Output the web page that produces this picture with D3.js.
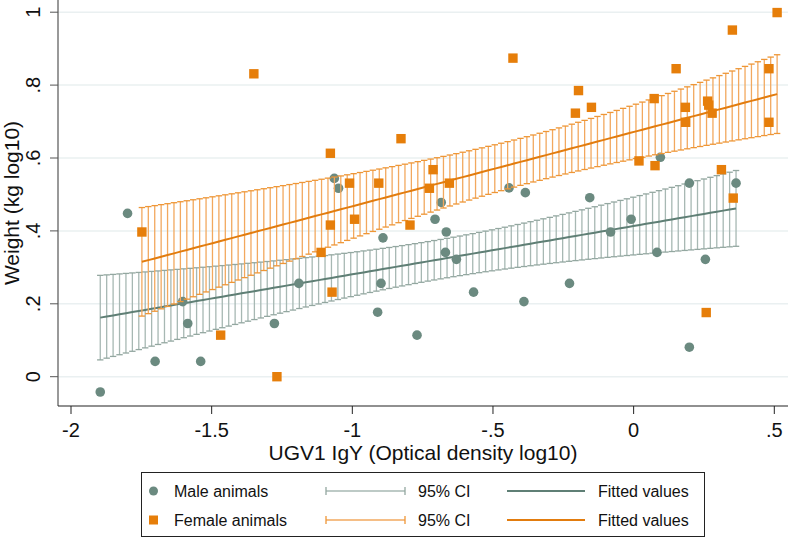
<!DOCTYPE html>
<html><head><meta charset="utf-8">
<script src="https://cdn.jsdelivr.net/npm/d3@7"></script>
<style>body{margin:0;background:#fff}svg{display:block;font-family:"Liberation Sans",Arial,sans-serif}</style>
</head><body><svg id="c" width="790" height="539"></svg>
<script>
const maleX = [-1.896,-1.799,-1.701,-1.603,-1.585,-1.539,-1.277,-1.190,-1.064,-1.049,-0.891,-0.898,-0.910,-0.770,-0.684,-0.706,-0.666,-0.669,-0.630,-0.569,-0.443,-0.385,-0.390,-0.156,-0.228,-0.082,-0.009,0.095,0.083,0.198,0.198,0.255,0.364];
const maleY = [-0.042,0.448,0.042,0.206,0.146,0.042,0.146,0.256,0.544,0.517,0.381,0.256,0.177,0.114,0.478,0.432,0.397,0.341,0.322,0.232,0.518,0.505,0.206,0.491,0.256,0.397,0.432,0.602,0.341,0.531,0.081,0.322,0.531];
const femaleX = [-1.748,-1.468,-1.268,-1.350,-1.078,-1.072,-1.111,-1.078,-0.992,-1.010,-0.906,-0.827,-0.795,-0.713,-0.726,-0.655,-0.429,-0.196,-0.207,-0.150,0.019,0.073,0.076,0.151,0.184,0.185,0.263,0.267,0.279,0.312,0.351,0.354,0.481,0.481,0.510,0.258];
const femaleY = [0.397,0.114,0.000,0.831,0.613,0.232,0.341,0.416,0.432,0.531,0.531,0.653,0.416,0.568,0.517,0.531,0.874,0.785,0.723,0.739,0.592,0.763,0.579,0.845,0.739,0.698,0.756,0.745,0.723,0.568,0.951,0.490,0.845,0.698,0.999,0.176];
const xTicks = [-2,-1.5,-1,-0.5,0,0.5];
const yTicks = [0,0.2,0.4,0.6,0.8,1];
const tCrit = {male:2.040, female:2.032};
const nFit = 100;

const svg = d3.select("#c");
const x = d3.scaleLinear().domain([-2,0.5]).range([71,774.3]);
const y = d3.scaleLinear().domain([0,1]).range([376.7,12.2]);
const L=58, R=788, T=0, B=406;
const fmt = v => String(v).replace("0.", ".");

const col = {
  male:{pt:"#6b8a80", ci:"#a7b8b3", cap:"#93a7a0", fit:"#5f7f75"},
  female:{pt:"#e67e0a", ci:"#f2a85e", cap:"#ee9636", fit:"#e27c0e"}
};

// gridlines
svg.append("g").selectAll("line").data(yTicks).join("line")
  .attr("x1",L).attr("x2",R).attr("y1",d=>y(d)).attr("y2",d=>y(d))
  .attr("stroke","#eaf0f1").attr("stroke-width",1.5);

function fit(xs, ys, t){
  const n=xs.length, mx=d3.mean(xs), my=d3.mean(ys);
  let sxx=0, sxy=0;
  for(let i=0;i<n;i++){sxx+=(xs[i]-mx)**2; sxy+=(xs[i]-mx)*(ys[i]-my);}
  const b=sxy/sxx, a=my-b*mx;
  let sse=0; for(let i=0;i<n;i++){sse+=(ys[i]-a-b*xs[i])**2;}
  const s=Math.sqrt(sse/(n-2));
  const [x0,x1]=d3.extent(xs);
  return d3.range(nFit).map(i=>{
    const xv=x0+(x1-x0)*i/(nFit-1);
    const yh=a+b*xv, se=s*Math.sqrt(1/n+(xv-mx)**2/sxx);
    return {x:xv, y:yh, lo:yh-t*se, hi:yh+t*se};
  });
}

function layer(xs, ys, key, shape){
  const c=col[key];
  const f=fit(xs,ys,tCrit[key]);
  const g=svg.append("g");
  g.selectAll("line.sp").data(f).join("line")
    .attr("x1",d=>x(d.x)).attr("x2",d=>x(d.x)).attr("y1",d=>y(d.lo)).attr("y2",d=>y(d.hi))
    .attr("stroke",c.ci).attr("stroke-width",1.3);
  ["lo","hi"].forEach(k=>{
    g.selectAll("line.c"+k).data(f).join("line")
      .attr("x1",d=>x(d.x)-3.2).attr("x2",d=>x(d.x)+3.2).attr("y1",d=>y(d[k])).attr("y2",d=>y(d[k]))
      .attr("stroke",c.cap).attr("stroke-width",1.3);
  });
  g.append("path").datum(f).attr("fill","none").attr("stroke",c.fit).attr("stroke-width",2)
    .attr("d",d3.line().x(d=>x(d.x)).y(d=>y(d.y)));
  const pts=xs.map((v,i)=>({x:v,y:ys[i]}));
  if(shape==="circle"){
    g.selectAll("circle").data(pts).join("circle").attr("cx",d=>x(d.x)).attr("cy",d=>y(d.y)).attr("r",4.8).attr("fill",c.pt);
  } else {
    g.selectAll("rect").data(pts).join("rect").attr("x",d=>x(d.x)-4.7).attr("y",d=>y(d.y)-4.7).attr("width",9.4).attr("height",9.4).attr("fill",c.pt);
  }
}
layer(maleX,maleY,"male","circle");
layer(femaleX,femaleY,"female","square");

// axes
svg.append("line").attr("x1",L).attr("x2",L).attr("y1",T).attr("y2",B).attr("stroke","#555").attr("stroke-width",1.2);
svg.append("line").attr("x1",L).attr("x2",R).attr("y1",B).attr("y2",B).attr("stroke","#222").attr("stroke-width",1.2);
svg.append("g").selectAll("line").data(xTicks).join("line")
  .attr("x1",d=>x(d)).attr("x2",d=>x(d)).attr("y1",B).attr("y2",B+8).attr("stroke","#222");
svg.append("g").selectAll("line").data(yTicks).join("line")
  .attr("x1",L-8).attr("x2",L).attr("y1",d=>y(d)).attr("y2",d=>y(d)).attr("stroke","#555");
svg.append("g").selectAll("text").data(xTicks).join("text")
  .attr("x",d=>x(d)).attr("y",437).attr("text-anchor","middle").attr("font-size",20).attr("fill","#111").text(fmt);
svg.append("g").selectAll("text").data(yTicks).join("text")
  .attr("transform",d=>`translate(40,${y(d)}) rotate(-90)`).attr("text-anchor","middle").attr("font-size",20).attr("fill","#111").text(fmt);
svg.append("text").attr("x",(L+R)/2).attr("y",460).attr("text-anchor","middle").attr("font-size",21).attr("fill","#111")
  .text("UGV1 IgY (Optical density log10)");
svg.append("text").attr("transform",`translate(19,${(T+B)/2}) rotate(-90)`).attr("text-anchor","middle").attr("font-size",21).attr("fill","#111")
  .text("Weight (kg log10)");

// legend
const lg=svg.append("g");
lg.append("rect").attr("x",141.5).attr("y",472.5).attr("width",563).attr("height",64).attr("fill","#fff").attr("stroke","#222").attr("stroke-width",1);
const rows=[{key:"male",label:"Male animals",shape:"circle",yy:491},{key:"female",label:"Female animals",shape:"square",yy:520}];
rows.forEach(r=>{
  const c=col[r.key];
  if(r.shape==="circle") lg.append("circle").attr("cx",153.5).attr("cy",r.yy).attr("r",4.5).attr("fill",c.pt);
  else lg.append("rect").attr("x",149).attr("y",r.yy-4.5).attr("width",9).attr("height",9).attr("fill",c.pt);
  lg.append("text").attr("x",174).attr("y",r.yy+5.5).attr("font-size",16).attr("fill","#111").text(r.label);
  lg.append("line").attr("x1",326).attr("x2",405).attr("y1",r.yy).attr("y2",r.yy).attr("stroke",c.ci).attr("stroke-width",1.3);
  [326,405].forEach(xx=>lg.append("line").attr("x1",xx).attr("x2",xx).attr("y1",r.yy-4).attr("y2",r.yy+4).attr("stroke",c.cap).attr("stroke-width",1.3));
  lg.append("text").attr("x",418).attr("y",r.yy+5.5).attr("font-size",16).attr("fill","#111").text("95% CI");
  lg.append("line").attr("x1",507).attr("x2",585).attr("y1",r.yy).attr("y2",r.yy).attr("stroke",c.fit).attr("stroke-width",2);
  lg.append("text").attr("x",598).attr("y",r.yy+5.5).attr("font-size",16).attr("fill","#111").text("Fitted values");
});
</script></body></html>
